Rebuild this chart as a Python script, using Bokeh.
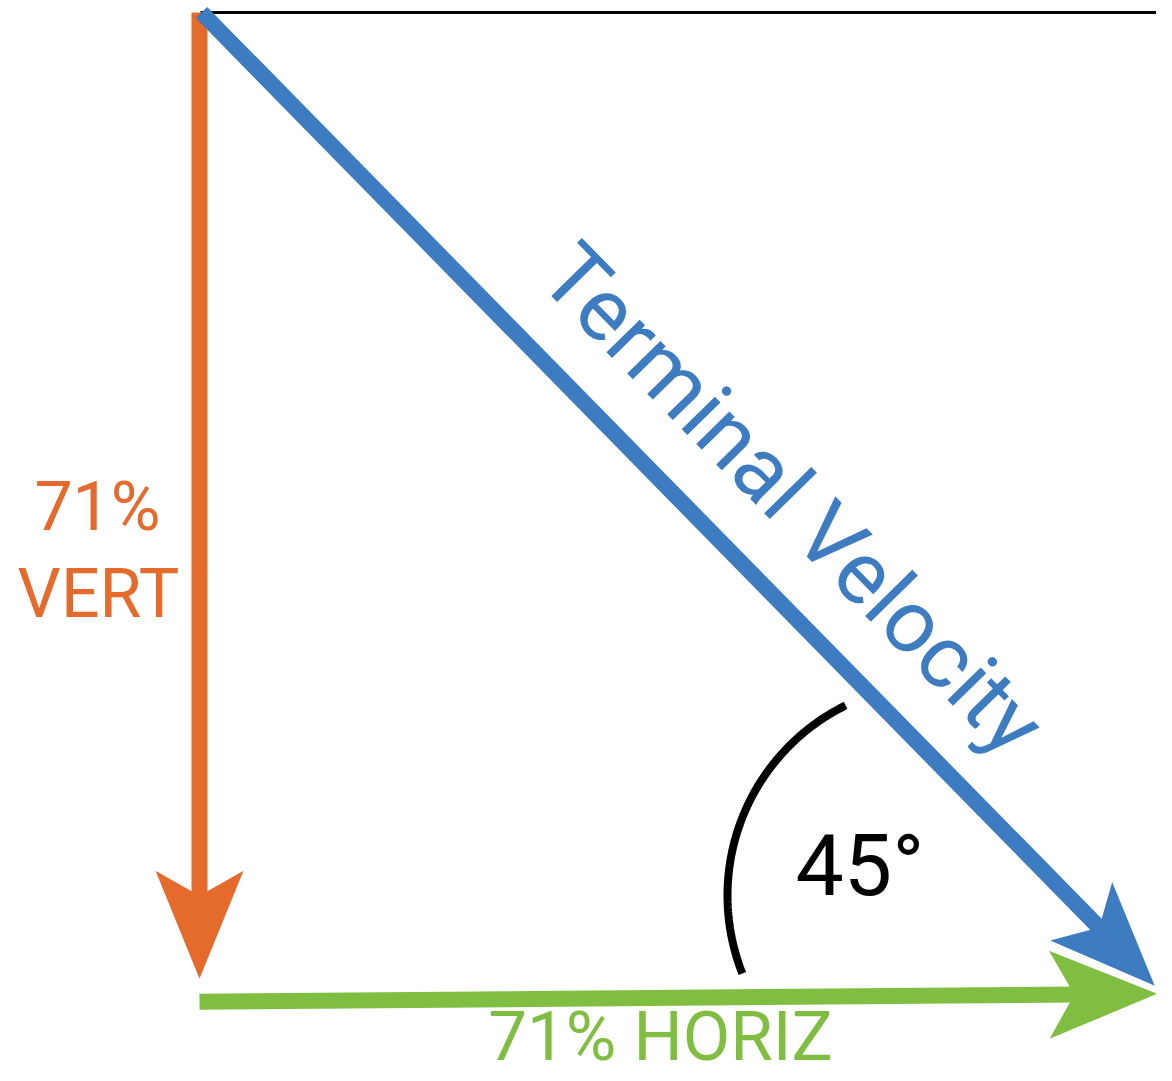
import numpy as np
from bokeh.plotting import figure
from bokeh.models import Range1d
from bokeh.core.properties import value
from bokeh.embed import file_html
from bokeh.resources import INLINE

# ---------------- data ----------------
vector_names = ["Terminal Velocity", "VERT", "HORIZ"]
component_pct = [71, 71]          # vertical share, horizontal share (%)
angle_deg = [45]                  # angle between velocity and horizontal
degree_sign = "\u00b0"

# ---------------- colours ----------------
C_VEL = "#3D7CC1"
C_VERT = "#E46B2C"
C_HOR = "#80BE42"
C_INK = "#000000"

# ---------------- layout (pixel units of the picture, y grows downward) ----------------
W, H = 1156, 1065
ORIGIN = (199.0, 12.0)            # top-left corner of the vector triangle
PX_PER_PCT_Y = 13.61              # drawn length per percent (vertical)
PX_PER_PCT_X = 13.49              # drawn length per percent (horizontal)
HOR_GAP = 23.0                    # gap under the vertical arrow tip
HOR_RISE = 8.0                    # the horizontal arrow climbs slightly
VEL_DROP = 8.0                    # velocity tip sits a bit below the vertical tip level
HEAD_LEN, HEAD_HALF, HEAD_NOTCH = 108.0, 44.0, 83.0
SHAFT_END = 78.0                  # shaft stops inside the head
SHAFT_W = 16
FONT = "Roboto"
BASE_FIX = 0.35                   # em offset of bokeh's alphabetic anchor

vert_len = component_pct[0] * PX_PER_PCT_Y
hor_len = component_pct[1] * PX_PER_PCT_X

vert_start = np.array(ORIGIN)
vert_tip = vert_start + np.array([0.0, vert_len])
hor_start = np.array([ORIGIN[0], vert_tip[1] + HOR_GAP])
hor_tip = hor_start + np.array([hor_len, -HOR_RISE])
vel_start = np.array([ORIGIN[0] + 2.0, ORIGIN[1]])
vel_tip = np.array([ORIGIN[0] + hor_len, vert_tip[1] + VEL_DROP])


def head(start, tip):
    u = (tip - start) / np.linalg.norm(tip - start)
    n = np.array([-u[1], u[0]])
    pts = [tip,
           tip - HEAD_LEN * u + HEAD_HALF * n,
           tip - HEAD_NOTCH * u,
           tip - HEAD_LEN * u - HEAD_HALF * n]
    return [q[0] for q in pts], [q[1] for q in pts]


def shaft_end(start, tip):
    u = (tip - start) / np.linalg.norm(tip - start)
    return tip - SHAFT_END * u


p = figure(width=W, height=H,
           x_range=Range1d(0, W), y_range=Range1d(H, 0),
           x_axis_type=None, y_axis_type=None,
           output_backend="svg", toolbar_location=None, min_border=0)
p.grid.visible = False
p.outline_line_color = None
p.background_fill_color = "white"
p.border_fill_color = "white"

# top reference line
p.line([ORIGIN[0] + 1, W + 20], [ORIGIN[1], ORIGIN[1]], line_width=3, line_color=C_INK)

# horizontal component (green)
e = shaft_end(hor_start, hor_tip)
p.line([hor_start[0], e[0]], [hor_start[1], e[1]], line_width=SHAFT_W, line_color=C_HOR)
hx, hy = head(hor_start, hor_tip)
p.patch(hx, hy, fill_color=C_HOR, line_color=None)

# vertical component (orange)
e = shaft_end(vert_start, vert_tip)
p.line([vert_start[0], e[0]], [vert_start[1], e[1]], line_width=SHAFT_W, line_color=C_VERT)
hx, hy = head(vert_start, vert_tip)
p.patch(hx, hy, fill_color=C_VERT, line_color=None)

# terminal velocity (blue)
e = shaft_end(vel_start, vel_tip)
p.line([vel_start[0], e[0]], [vel_start[1], e[1]], line_width=SHAFT_W, line_color=C_VEL)
hx, hy = head(vel_start, vel_tip)
p.patch(hx, hy, fill_color=C_VEL, line_color=None)
# white separation along the edge facing the green head
p.line([hx[3], hx[0]], [hy[3], hy[0]], line_width=4, line_color="white")

# angle arc
ARC_C, ARC_R = (939.0, 895.0), 212.0
a = np.radians(np.linspace(116.3, 201.6, 120))
p.line(ARC_C[0] + ARC_R * np.cos(a), ARC_C[1] - ARC_R * np.sin(a),
       line_width=8, line_color=C_INK)


def label(x, y, txt, size, color, align="center", angle=0.0):
    # (x, y) is the wanted start/centre of the baseline
    th = np.radians(angle)
    up = np.array([-np.sin(th), -np.cos(th)])   # glyph "up" on screen (y down)
    ax = x + BASE_FIX * size * up[0]
    ay = y + BASE_FIX * size * up[1]
    p.text(x=[ax], y=[ay], text=[txt], angle=angle, angle_units="deg",
           text_font=value(FONT), text_font_size=value(f"{size}px"),
           text_color=color, text_align=align, text_baseline="alphabetic")


label(795, 895, f"{angle_deg[0]}{degree_sign}", 86, C_INK, align="left")
label(97, 530, f"{component_pct[0]}%", 68, C_VERT)
label(98, 617, vector_names[1], 68, C_VERT)
label(660, 1060, f"{component_pct[1]}% {vector_names[2]}", 69, C_HOR)

vel_angle = -np.degrees(np.arctan2(vel_tip[1] - vel_start[1], vel_tip[0] - vel_start[0]))
label(535, 280, vector_names[0], 88, C_VEL, align="left", angle=vel_angle)

open("out.html", "w").write(file_html(p, INLINE))
